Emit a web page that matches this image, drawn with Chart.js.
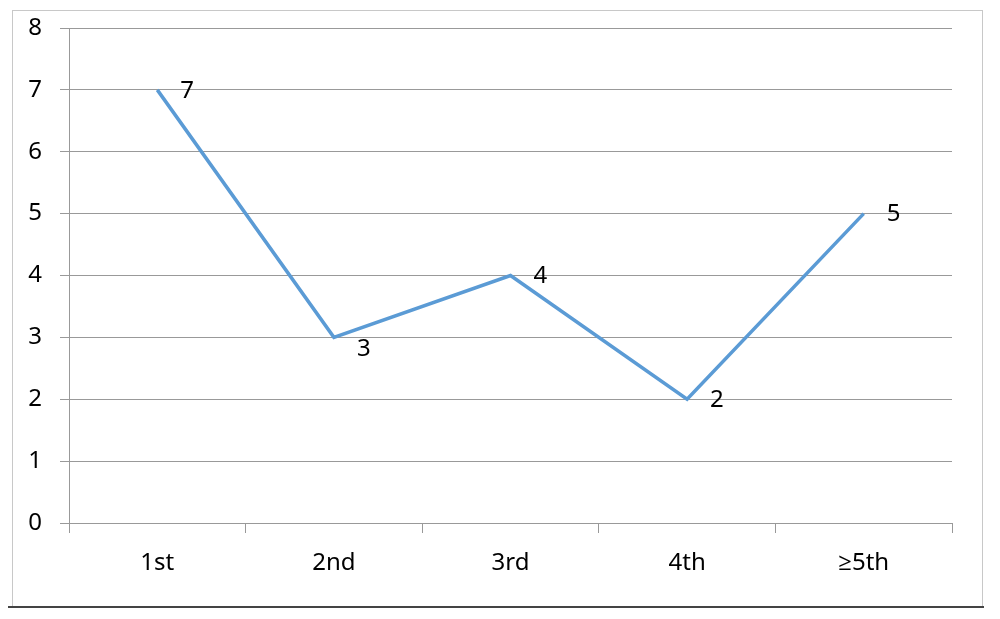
<!DOCTYPE html>
<html>
<head>
<meta charset="utf-8">
<script src="https://cdn.jsdelivr.net/npm/chart.js@4"></script>
<style>
  html, body { margin: 0; padding: 0; background: #fff; }
  #wrap { width: 1000px; height: 619px; }
</style>
</head>
<body>
<div id="wrap"><canvas id="chart" width="1000" height="619"></canvas></div>
<script>
const categories = ['1st', '2nd', '3rd', '4th', '\u22655th'];
const values = [7, 3, 4, 2, 5];
const yTicks = [0, 1, 2, 3, 4, 5, 6, 7, 8];

const FONT = '"Noto Sans", "Open Sans", sans-serif';

// outer frame like the office chart border
const framePlugin = {
    id: 'frame',
    beforeDraw(chart) {
        const c = chart.ctx;
        c.save();
        c.strokeStyle = '#c8c8c8';
        c.lineWidth = 1;
        c.strokeRect(12.5, 10.5, 970, 596);
        c.strokeStyle = '#444';
        c.lineWidth = 2;
        c.beginPath();
        c.moveTo(8, 607);
        c.lineTo(984, 607);
        c.stroke();
        c.restore();
    }
};

// value labels drawn to the right of each point
const valueLabels = {
    id: 'valueLabels',
    afterDatasetsDraw(chart) {
        const c = chart.ctx;
        const meta = chart.getDatasetMeta(0);
        c.save();
        c.font = '24px ' + FONT;
        c.fillStyle = '#000';
        c.textAlign = 'left';
        c.textBaseline = 'middle';
        meta.data.forEach((pt, i) => {
            const dy = values[i] === 3 ? 12 : 1;
            c.fillText(String(values[i]), pt.x + 23, pt.y + dy);
        });
        c.restore();
    }
};

new Chart(document.getElementById('chart').getContext('2d'), {
    type: 'line',
    data: {
        labels: categories,
        datasets: [{
            data: values,
            borderColor: '#5b9bd5',
            borderWidth: 3.5,
            pointRadius: 0,
            tension: 0,
            fill: false
        }]
    },
    options: {
        responsive: false,
        maintainAspectRatio: false,
        animation: false,
        layout: { padding: { left: 12, top: 28, right: 48, bottom: 36 } },
        scales: {
            x: {
                offset: true,
                grid: { offset: true, drawOnChartArea: false, drawTicks: true, tickLength: 10, color: '#999' },
                border: { display: true, color: '#999' },
                ticks: { color: '#000', font: { family: FONT, size: 24 }, padding: 16, maxRotation: 0 },
                afterFit(scale) { scale.height = 60; scale.paddingLeft = 0; scale.paddingRight = 0; }
            },
            y: {
                min: 0,
                max: 8,
                afterBuildTicks(scale) { scale.ticks = yTicks.map(v => ({ value: v })); },
                grid: { color: '#999', tickLength: 9 },
                border: { display: true, color: '#999' },
                ticks: { color: '#000', font: { family: FONT, size: 24 }, padding: 18 },
                afterFit(scale) { scale.width = 57; scale.paddingTop = 0; scale.paddingBottom = 0; }
            }
        },
        plugins: {
            legend: { display: false },
            tooltip: { enabled: false }
        }
    },
    plugins: [framePlugin, valueLabels]
});
</script>
</body>
</html>
